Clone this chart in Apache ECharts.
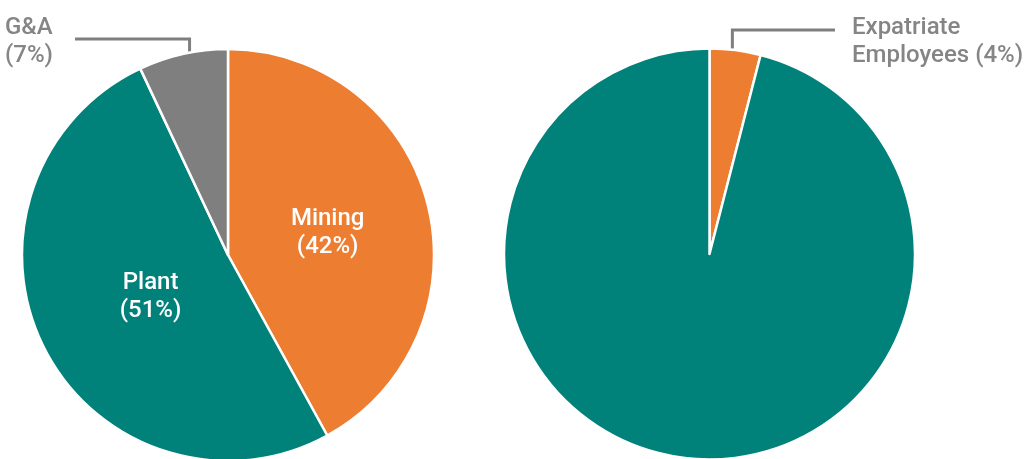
<!DOCTYPE html>
<html>
<head>
<meta charset="utf-8">
<script src="https://cdn.jsdelivr.net/npm/echarts@6/dist/echarts.min.js"></script>
<style>
html,body{margin:0;padding:0;background:#fff;}
#chart{width:1035px;height:459px;}
</style>
</head>
<body>
<div id="chart"></div>
<script>
// ---- data ----
const costCategories = ['Mining', 'Plant', 'G&A'];
const costValues = [42, 51, 7];
const workforceCategories = ['Expatriate Employees', 'Local Employees'];
const workforceValues = [4, 96];

// ---- styles ----
const ORANGE = '#ED7D31';
const TEAL = '#00827A';
const GRAY = '#7F7F7F';
const LABEL_GRAY = '#858585';
const FONT = 'Roboto';

const L_CENTER = [228, 255], L_R = 206;
const R_CENTER = [709.5, 254], R_R = 205.5;

function arcY(center, r, x) {
  return center[1] - Math.sqrt(r * r - (x - center[0]) * (x - center[0]));
}

const chart = echarts.init(document.getElementById('chart'));

const leftColors = [ORANGE, TEAL, GRAY];
const rightColors = [ORANGE, TEAL];

const leftData = costCategories.map((n, i) => {
  const d = { name: n, value: costValues[i], itemStyle: { color: leftColors[i] } };
  if (i === 2) {
    d.label = { position: 'outside', color: LABEL_GRAY, fontWeight: 500, align: 'left' };
    d.labelLine = { show: true, length: 10, length2: 10, lineStyle: { color: GRAY, width: 3 } };
  }
  return d;
});

const rightData = workforceCategories.map((n, i) => {
  const d = { name: n, value: workforceValues[i], itemStyle: { color: rightColors[i] } };
  if (i === 0) {
    d.label = { show: true, position: 'outside', color: LABEL_GRAY, fontWeight: 500, align: 'left' };
    d.labelLine = { show: true, length: 10, length2: 10, lineStyle: { color: GRAY, width: 3 } };
  } else {
    d.label = { show: false };
    d.labelLine = { show: false };
  }
  return d;
});

const option = {
  backgroundColor: '#fff',
  animation: false,
  series: [
    {
      type: 'pie',
      center: L_CENTER,
      radius: L_R,
      startAngle: 90,
      clockwise: true,
      silent: true,
      itemStyle: { borderColor: '#fff', borderWidth: 2.5 },
      label: {
        show: true, position: 'inside', color: '#fff',
        fontFamily: FONT, fontSize: 24, fontWeight: 500, lineHeight: 28,
        formatter: p => p.name + '\n(' + p.value + '%)'
      },
      labelLine: { show: false },
      data: leftData,
      labelLayout: function (p) {
        if (p.dataIndex === 0) return { dx: -3, dy: 4 };
        if (p.dataIndex === 1) return { dx: 17, dy: -6 };
        if (p.dataIndex === 2) {
          const lx = p.rect.x + p.rect.width * 0.56;
          const ly = 39;
          const labelX = 5;
          const endX = labelX + p.labelRect.width + 22;
          return {
            x: labelX, y: 14, align: 'left', verticalAlign: 'top',
            labelLinePoints: [[lx, arcY(L_CENTER, L_R, lx) + 1], [lx, ly], [endX, ly]]
          };
        }
        return {};
      }
    },
    {
      type: 'pie',
      center: R_CENTER,
      radius: R_R,
      startAngle: 90,
      clockwise: true,
      silent: true,
      itemStyle: { borderColor: '#fff', borderWidth: 2.5 },
      label: {
        fontFamily: FONT, fontSize: 24, fontWeight: 500, lineHeight: 28,
        formatter: p => p.name.replace(' ', '\n') + ' (' + p.value + '%)'
      },
      data: rightData,
      labelLayout: function (p) {
        if (p.dataIndex === 0) {
          const lx = p.rect.x + p.rect.width * 0.45;
          const ly = 30;
          const labelX = 852;
          return {
            x: labelX, y: 14, align: 'left', verticalAlign: 'top',
            labelLinePoints: [[lx, arcY(R_CENTER, R_R, lx) - 1], [lx, ly], [labelX - 17, ly]]
          };
        }
        return {};
      }
    }
  ]
};
chart.setOption(option);
</script>
</body>
</html>
